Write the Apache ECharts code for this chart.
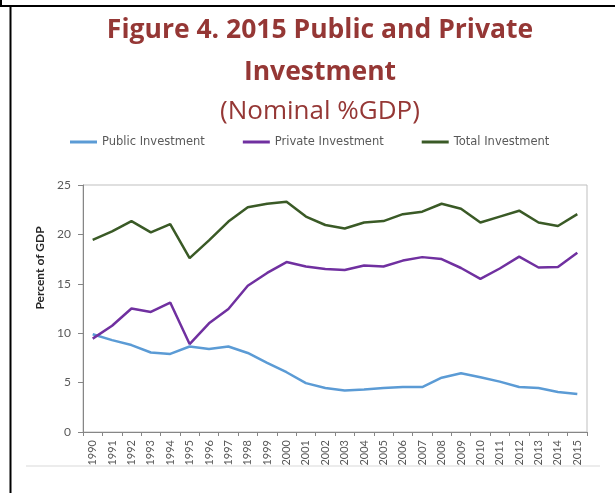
<!DOCTYPE html>
<html>
<head>
<meta charset="utf-8">
<script src="https://cdn.jsdelivr.net/npm/echarts@6/dist/echarts.min.js"></script>
<style>
  html, body { margin: 0; padding: 0; background: #fff; }
  #chart { width: 615px; height: 493px; }
</style>
</head>
<body>
<div id="chart"></div>
<script>
  // data
  const years = ['1990', '1991', '1992', '1993', '1994', '1995', '1996', '1997', '1998', '1999',
    '2000', '2001', '2002', '2003', '2004', '2005', '2006', '2007', '2008', '2009',
    '2010', '2011', '2012', '2013', '2014', '2015'];
  const publicInv = [9.9, 9.3, 8.8, 8.05, 7.9, 8.65, 8.4, 8.65, 8.0, 7.0,
    6.05, 4.95, 4.45, 4.2, 4.3, 4.45, 4.55, 4.55, 5.5, 5.95,
    5.55, 5.1, 4.55, 4.45, 4.05, 3.85];
  const privateInv = [9.45, 10.75, 12.5, 12.15, 13.1, 8.9, 11.0, 12.45, 14.8, 16.1,
    17.2, 16.75, 16.5, 16.4, 16.85, 16.75, 17.35, 17.7, 17.5, 16.6,
    15.5, 16.55, 17.75, 16.65, 16.7, 18.15];
  const totalInv = [19.45, 20.3, 21.35, 20.2, 21.05, 17.6, 19.4, 21.3, 22.75, 23.1,
    23.3, 21.8, 20.95, 20.6, 21.2, 21.35, 22.05, 22.3, 23.1, 22.6,
    21.2, 21.8, 22.4, 21.2, 20.85, 22.05];
  const yTicks = [0, 5, 10, 15, 20, 25];

  const chart = echarts.init(document.getElementById('chart'));
  const grey = '#595959';
  const titleRed = '#953735';

  const option = {
    backgroundColor: '#fff',
    animation: false,
    title: [
      { text: 'Figure 4. 2015 Public and Private', left: 315, textAlign: 'center', top: 12,
        textStyle: { fontFamily: 'Open Sans', fontWeight: 'bold', fontSize: 26.5, color: titleRed } },
      { text: 'Investment', left: 315, textAlign: 'center', top: 54,
        textStyle: { fontFamily: 'Open Sans', fontWeight: 'bold', fontSize: 26.5, color: titleRed } },
      { text: '(Nominal %GDP)', left: 315, textAlign: 'center', top: 94,
        textStyle: { fontFamily: 'Open Sans', fontWeight: 'normal', fontSize: 26, color: titleRed } }
    ],
    legend: {
      left: 65, top: 131,
      itemWidth: 27, itemHeight: 3, itemGap: 38,
      icon: 'rect',
      textStyle: { fontFamily: 'DejaVu Sans', fontSize: 11.5, color: grey },
      data: ['Public Investment', 'Private Investment', 'Total Investment']
    },
    grid: {
      left: 83, right: 28, top: 185, bottom: 61,
      show: true, borderColor: '#bfbfbf', borderWidth: 1
    },
    xAxis: {
      type: 'category',
      data: years,
      boundaryGap: true,
      axisLine: { lineStyle: { color: '#868686' } },
      axisTick: { show: true, length: 4, lineStyle: { color: '#868686' } },
      axisLabel: { rotate: 90, interval: 0, margin: 8, fontFamily: 'Lato', fontSize: 11, color: grey }
    },
    yAxis: {
      type: 'value',
      min: yTicks[0], max: yTicks[yTicks.length - 1], interval: 5,
      axisLine: { show: true, lineStyle: { color: '#868686' } },
      axisTick: { show: true, length: 5, lineStyle: { color: '#868686' } },
      splitLine: { show: false },
      axisLabel: { margin: 12, fontFamily: 'Lato', fontSize: 12, color: grey }
    },
    series: [
      { name: 'Public Investment', type: 'line', data: publicInv, symbol: 'none',
        itemStyle: { color: '#5b9bd5' }, lineStyle: { width: 2.5, color: '#5b9bd5' } },
      { name: 'Private Investment', type: 'line', data: privateInv, symbol: 'none',
        itemStyle: { color: '#7030a0' }, lineStyle: { width: 2.5, color: '#7030a0' } },
      { name: 'Total Investment', type: 'line', data: totalInv, symbol: 'none',
        itemStyle: { color: '#3a5a26' }, lineStyle: { width: 2.5, color: '#3a5a26' } }
    ],
    graphic: [
      // page borders around the figure
      { type: 'line', shape: { x1: 0, y1: 6, x2: 615, y2: 6 }, style: { stroke: '#000', lineWidth: 2 } },
      { type: 'line', shape: { x1: 10.5, y1: 6, x2: 10.5, y2: 493 }, style: { stroke: '#000', lineWidth: 2 } },
      { type: 'line', shape: { x1: 1, y1: 0, x2: 1, y2: 6 }, style: { stroke: '#000', lineWidth: 2 } },
      { type: 'line', shape: { x1: 26, y1: 466, x2: 600, y2: 466 }, style: { stroke: '#d9d9d9', lineWidth: 1 } },
      { type: 'text', x: 40, y: 268, rotation: Math.PI / 2,
        style: { text: 'Percent of GDP', fontFamily: 'Lato', fontWeight: 'bold', fontSize: 12,
          fill: '#262626', textAlign: 'center', textVerticalAlign: 'middle' } }
    ]
  };

  chart.setOption(option);
</script>
</body>
</html>
